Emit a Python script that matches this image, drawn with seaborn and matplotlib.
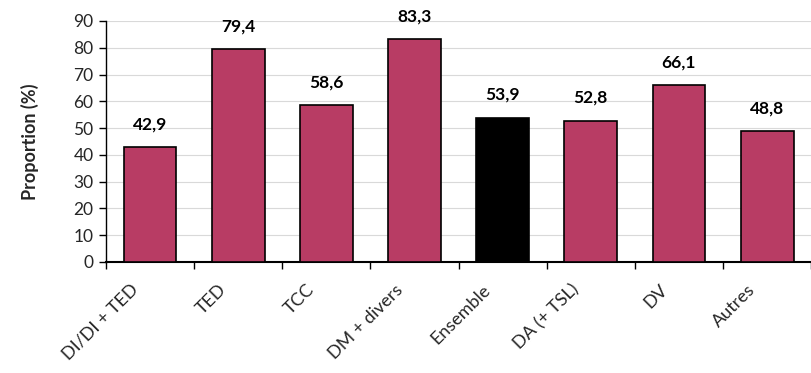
import matplotlib.pyplot as plt
import matplotlib.transforms as mtransforms
import seaborn as sns
import pandas as pd
import numpy as np

categories = ["DI/DI + TED", "TED", "TCC", "DM + divers", "Ensemble",
              "DA (+ TSL)", "DV", "Autres"]
values = [42.9, 79.4, 58.6, 83.3, 53.9, 52.8, 66.1, 48.8]
labels = ["42,9", "79,4", "58,6", "83,3", "53,9", "52,8", "66,1", "48,8"]
colors = ["#B83C64" if c != "Ensemble" else "#000000" for c in categories]

df = pd.DataFrame({"cat": categories, "val": values})

sns.set_theme(style="white")
plt.rcParams["font.family"] = ["Lato", "DejaVu Sans"]

fig = plt.figure(figsize=(8.12, 3.73), dpi=100)
ax = fig.add_axes([0.1305, 0.2976, 0.8685, 0.6461])

sns.barplot(data=df, x="cat", y="val", hue="cat", palette=colors,
            legend=False, width=0.6, edgecolor="black", linewidth=1.2,
            saturation=1, ax=ax, zorder=3)

for i, (v, t) in enumerate(zip(values, labels)):
    ax.text(i, v + 8.5, t, ha="center", va="center", fontsize=12.5,
            fontweight="bold", color="black")

ax.set_ylim(0, 90)
ax.set_xlim(-0.5, len(categories) - 0.5)
ax.set_yticks(range(0, 91, 10))
ax.yaxis.grid(True, color="#D9D9D9", linewidth=0.8, zorder=0)
ax.set_axisbelow(True)
ax.set_xlabel("")
ax.set_ylabel("Proportion (%)", fontsize=13, fontweight="bold")
ax.yaxis.set_label_coords(-0.095, 0.5)

ax.set_xticks(range(len(categories)))
ax.set_xticklabels(categories, rotation=45, ha="right", rotation_mode="anchor",
                   fontsize=13)
ax.tick_params(axis="x", length=0, pad=14)
shift = mtransforms.ScaledTranslation(-20 / 100, 0, fig.dpi_scale_trans)
for lab in ax.get_xticklabels():
    lab.set_transform(lab.get_transform() + shift)
ax.set_xticks(np.arange(-0.5, len(categories), 1), minor=True)
ax.tick_params(axis="x", which="minor", length=5, width=1, color="black",
               direction="out", bottom=True)
ax.tick_params(axis="y", length=5, width=1, color="black", direction="out",
               left=True, labelsize=12.5, pad=4)

for s in ["top", "right"]:
    ax.spines[s].set_visible(False)
ax.spines["left"].set_color("black")
ax.spines["bottom"].set_color("black")
ax.spines["left"].set_linewidth(1)
ax.spines["bottom"].set_linewidth(1.5)

fig.savefig("out.png", dpi=100)
